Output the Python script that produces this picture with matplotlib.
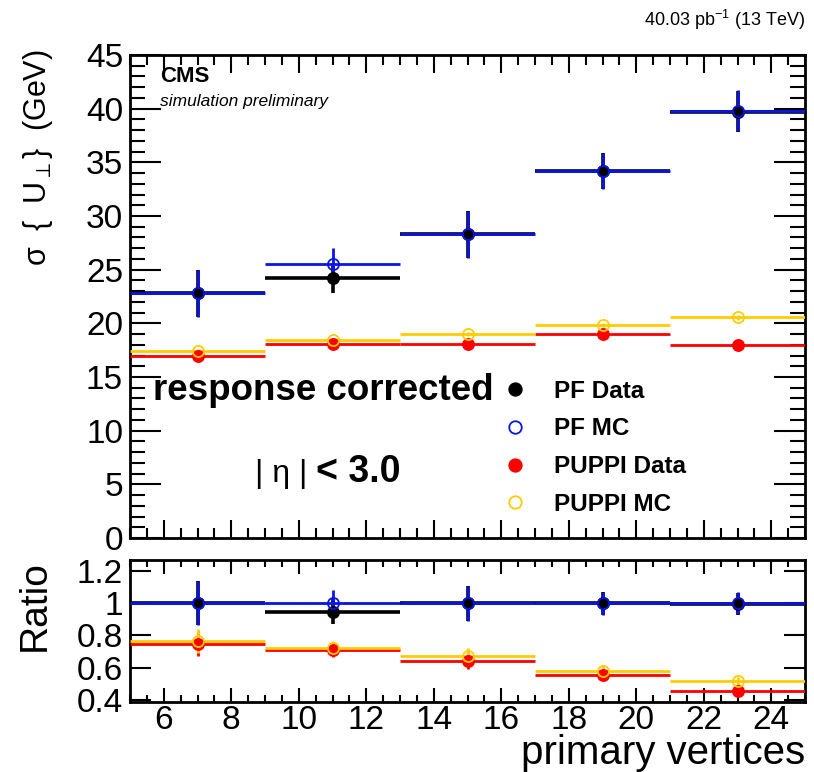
import numpy as np
import matplotlib
matplotlib.use("Agg")
import matplotlib.pyplot as plt
from matplotlib.ticker import MultipleLocator
from matplotlib.lines import Line2D

plt.rcParams['font.family'] = ['Liberation Sans', 'DejaVu Sans']
plt.rcParams['mathtext.fontset'] = 'custom'
plt.rcParams['mathtext.rm'] = 'Liberation Sans'
plt.rcParams['mathtext.it'] = 'Liberation Sans:italic'

# binning in number of primary vertices
bin_edges = [5, 9, 13, 17, 21, 25]

# sigma(U_perp) in GeV after response correction
pf_data = [22.8, 24.2, 28.3, 34.2, 39.7]
pf_data_err = [2.2, 1.4, 2.2, 1.7, 1.9]
pf_mc = [22.8, 25.5, 28.3, 34.2, 39.8]
pf_mc_err = [2.2, 1.5, 2.2, 1.7, 1.9]
puppi_data = [17.0, 18.1, 18.1, 19.0, 18.0]
puppi_data_err = [0.25, 0.2, 0.2, 0.2, 0.2]
puppi_mc = [17.4, 18.45, 19.0, 19.85, 20.55]
puppi_mc_err = [0.25, 0.2, 0.2, 0.2, 0.2]

edges = np.array(bin_edges, dtype=float)
xc = 0.5 * (edges[1:] + edges[:-1])
xw = 0.5 * (edges[1:] - edges[:-1])


def ratio(y, ey, ref, eref):
    y, ey, ref, eref = map(np.asarray, (y, ey, ref, eref))
    r = y / ref
    return r, r * np.sqrt((ey / y) ** 2 + (eref / ref) ** 2)


series = [
    # label, values, errors, colour, filled, line width
    ("PF Data", pf_data, pf_data_err, "black", True, 2.6),
    ("PF MC", pf_mc, pf_mc_err, "#0a14e6", False, 2.0),
    ("PUPPI Data", puppi_data, puppi_data_err, "#ff0000", True, 2.0),
    ("PUPPI MC", puppi_mc, puppi_mc_err, "#ffcc00", False, 2.0),
]

fig = plt.figure(figsize=(8.14, 7.72), dpi=100)
ax = fig.add_axes([130 / 814, 1 - 538 / 772, 675 / 814, 483 / 772])
axr = fig.add_axes([130 / 814, 1 - 702 / 772, 675 / 814, 142 / 772], sharex=ax)


def draw(a, y, ey, col, filled, lw):
    a.errorbar(xc, y, xerr=xw, yerr=ey, fmt='none', ecolor=col, elinewidth=lw,
               capsize=0, zorder=3)
    a.plot(xc, y, 'o', ms=8, mec=col, mew=1.3,
           mfc=col if filled else 'none', zorder=4)


for lab, y, ey, col, filled, lw in series:
    draw(ax, y, ey, col, filled, lw)
    r, er = ratio(y, ey, pf_mc, pf_mc_err)
    draw(axr, r, er, col, filled, lw)

axr.axhline(1.0, color='#0a14e6', lw=1.0, ls='--', zorder=2)

for a in (ax, axr):
    a.set_xlim(5, 25)
    for s in a.spines.values():
        s.set_linewidth(2)
    a.tick_params(which='both', direction='in', top=True, right=True,
                  width=1.5, labelsize=24)
    a.tick_params(axis='y', pad=5)
    a.tick_params(axis='x', pad=2)
    a.xaxis.set_major_locator(MultipleLocator(2))
    a.xaxis.set_minor_locator(MultipleLocator(0.5))

ax.set_ylim(0, 45)
ax.yaxis.set_major_locator(MultipleLocator(5))
ax.yaxis.set_minor_locator(MultipleLocator(1))
ax.tick_params(axis='y', which='major', length=22)
ax.tick_params(axis='y', which='minor', length=11)
ax.tick_params(axis='x', which='major', length=13, labelbottom=False)
ax.tick_params(axis='x', which='minor', length=7)

axr.set_ylim(0.385, 1.27)
axr.set_yticks([0.4, 0.6, 0.8, 1.0, 1.2])
axr.set_yticklabels(["0.4", "0.6", "0.8", "1", "1.2"])
axr.tick_params(axis='y', which='major', length=15)
axr.tick_params(axis='x', which='major', length=10)
axr.tick_params(axis='x', which='minor', length=5)

fig.text(38 / 814, 1 - 158 / 772, "σ  {  U$_{\\perp}$}  (GeV)",
         rotation=90, fontsize=22, ha='center', va='center')
fig.text(35 / 814, 1 - 606 / 772, "Ratio", rotation=90, fontsize=28,
         ha='center', va='center')
fig.text(805 / 814, 1 - 764 / 772, "primary vertices", fontsize=29,
         ha='right', va='baseline')
fig.text(805 / 814, 1 - 26 / 772, r"40.03 pb$^{-1}$ (13 TeV)", fontsize=13,
         ha='right', va='baseline')

ax.text(160 / 814, 1 - 82 / 772, "CMS", transform=fig.transFigure,
        fontsize=16, fontweight='bold', va='baseline')
ax.text(160 / 814, 1 - 106 / 772, "simulation preliminary",
        transform=fig.transFigure, fontsize=12.5, style='italic', va='baseline')
ax.text(153 / 814, 1 - 400 / 772, "response corrected",
        transform=fig.transFigure, fontsize=26.5, fontweight='bold', va='baseline')
ax.text(255 / 814, 1 - 482 / 772, "| η |", transform=fig.transFigure,
        fontsize=23, va='baseline')
ax.text(316 / 814, 1 - 482 / 772, "< 3.0", transform=fig.transFigure,
        fontsize=27, fontweight='bold', va='baseline')

handles = [Line2D([], [], ls='none', marker='o', ms=9, mec=col, mew=1.3,
                  mfc=col if filled else 'none')
           for lab, y, ey, col, filled, lw in series]
labels = [s[0] for s in series]
leg = ax.legend(handles, labels, loc='upper left',
                bbox_to_anchor=(479 / 814, 1 - 358 / 772),
                bbox_transform=fig.transFigure, frameon=False,
                prop={'weight': 'bold', 'size': 17.5}, handletextpad=1.0,
                labelspacing=0.6, handlelength=1.2)

fig.savefig("out.png", dpi=100)
